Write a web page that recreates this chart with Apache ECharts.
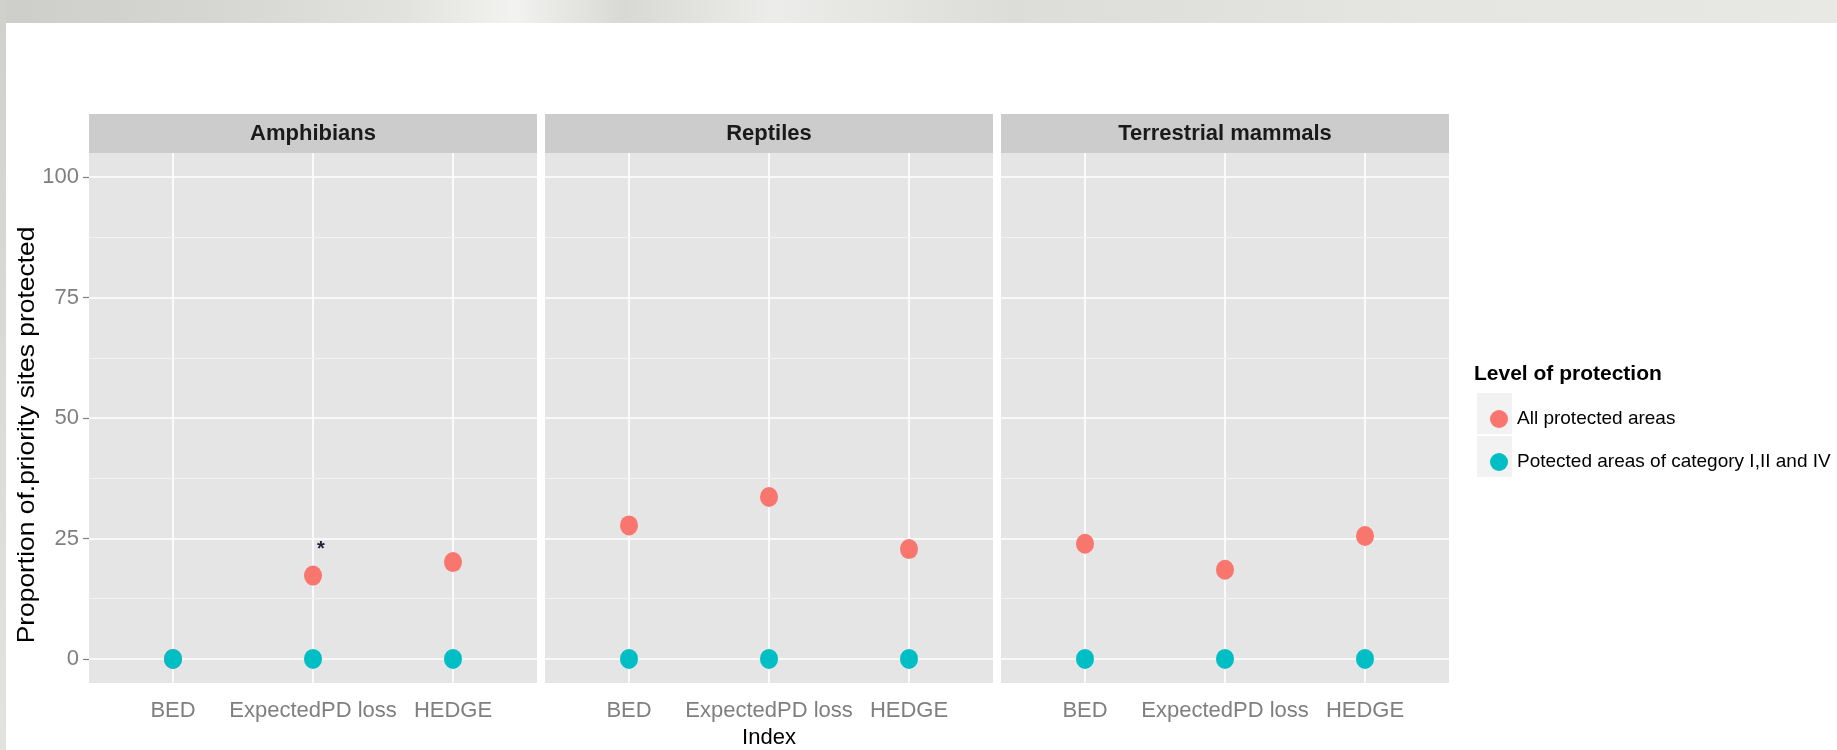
<!DOCTYPE html>
<html>
<head>
<meta charset="utf-8">
<script src="https://cdn.jsdelivr.net/npm/echarts@6/dist/echarts.min.js"></script>
<style>
  html, body { margin: 0; padding: 0; background: #ffffff; }
  #chart { width: 1837px; height: 750px; }
</style>
</head>
<body>
<div id="chart"></div>
<script>
// Index categories shown along each panel's x axis
const categories = ['BED', 'ExpectedPD loss', 'HEDGE'];
// Facet panels (taxonomic groups)
const panels = ['Amphibians', 'Reptiles', 'Terrestrial mammals'];
// Proportion of priority sites protected, all protected areas
const amphibiansAll = [0, 17.3, 20.1];
const reptilesAll = [27.7, 33.6, 22.8];
const mammalsAll = [23.9, 18.5, 25.5];
// Proportion of priority sites protected, IUCN category I, II and IV areas
const amphibiansStrict = [0, 0, 0];
const reptilesStrict = [0, 0, 0];
const mammalsStrict = [0, 0, 0];
// Y axis major and minor break values
const yTicks = [0, 25, 50, 75, 100];
const yMinor = [12.5, 37.5, 62.5, 87.5];
// Level of protection names
const seriesNames = ['All protected areas', 'Potected areas of category I,II and IV'];

const allValues = [amphibiansAll, reptilesAll, mammalsAll];
const strictValues = [amphibiansStrict, reptilesStrict, mammalsStrict];

const FONT = '"Liberation Sans", Arial, sans-serif';
const RED = '#F8766D';
const CYAN = '#00BFC4';
const PANEL_BG = '#E5E5E5';
const STRIP_BG = '#CCCCCC';
const AXIS_GREY = '#7F7F7F';
const POINT_SIZE = [18, 20];

// Panel geometry
const panelLeft = [89, 545, 1001];
const panelW = 448;
const panelTop = 153;
const panelH = 530;
const stripH = 39;

const xTickValues = categories.map((c, i) => i + 1);

const grids = panelLeft.map(l => ({
  left: l, top: panelTop, width: panelW, height: panelH,
  outerBoundsMode: 'none', containLabel: false,
  show: true, backgroundColor: PANEL_BG, borderWidth: 0
}));

const xAxes = panels.map((p, i) => ({
  gridIndex: i,
  type: 'value',
  min: 0.4,
  max: 3.6,
  axisLine: { show: false },
  axisTick: { show: true, length: 6, customValues: xTickValues, lineStyle: { color: AXIS_GREY, width: 1.2 } },
  axisLabel: {
    customValues: xTickValues,
    formatter: v => categories[Math.round(v) - 1],
    color: AXIS_GREY, fontSize: 22, fontFamily: FONT, margin: 17
  },
  splitLine: { show: true, lineStyle: { color: '#FFFFFF', width: 1.6 } },
  name: i === 1 ? 'Index' : '',
  nameLocation: 'middle',
  nameGap: 44,
  nameTextStyle: { color: '#000000', fontSize: 22, fontFamily: FONT }
}));

const yAxes = panels.map((p, i) => ({
  gridIndex: i,
  type: 'value',
  min: -5,
  max: 105,
  axisLine: { show: false },
  axisTick: { show: i === 0, length: 6, customValues: yTicks, lineStyle: { color: AXIS_GREY, width: 1.2 } },
  axisLabel: { show: i === 0, customValues: yTicks, color: AXIS_GREY, fontSize: 22, fontFamily: FONT, margin: 10 },
  splitLine: { show: true, lineStyle: { color: '#FFFFFF', width: 1.6 } }
}));

const series = [];
panels.forEach((p, i) => {
  series.push({
    name: seriesNames[0],
    type: 'scatter',
    xAxisIndex: i, yAxisIndex: i,
    symbol: 'circle', symbolSize: POINT_SIZE,
    itemStyle: { color: RED, opacity: 1 },
    data: allValues[i].map((v, j) => {
      const item = { value: [j + 1, v] };
      // significance marker above Amphibians / ExpectedPD loss
      if (i === 0 && categories[j] === 'ExpectedPD loss') {
        item.label = {
          show: true, formatter: '*', position: 'inside', offset: [8, -26],
          color: '#222233', fontSize: 20, fontFamily: FONT, fontWeight: 'bold'
        };
      }
      return item;
    }),
    markLine: {
      silent: true, symbol: 'none', animation: false,
      label: { show: false },
      lineStyle: { color: '#F2F2F2', width: 1, type: 'solid' },
      emphasis: { disabled: true },
      data: yMinor.map(v => ({ yAxis: v }))
    },
    z: 3
  });
  series.push({
    name: seriesNames[1],
    type: 'scatter',
    xAxisIndex: i, yAxisIndex: i,
    symbol: 'circle', symbolSize: POINT_SIZE,
    itemStyle: { color: CYAN, opacity: 1 },
    data: strictValues[i].map((v, j) => [j + 1, v]),
    z: 4
  });
});

// Strip headers and decoration
const graphics = [];
graphics.push({
  type: 'rect', left: 0, top: 0, z: -10, silent: true,
  shape: { width: 1837, height: 23 },
  style: {
    fill: new echarts.graphic.LinearGradient(0, 0, 1, 0, [
      { offset: 0, color: '#cdcdc9' },
      { offset: 0.12, color: '#d6d6d2' },
      { offset: 0.22, color: '#e2e2de' },
      { offset: 0.28, color: '#f2f2f0' },
      { offset: 0.34, color: '#d8d8d4' },
      { offset: 0.42, color: '#ececea' },
      { offset: 0.55, color: '#dcdcd8' },
      { offset: 0.75, color: '#e4e4e0' },
      { offset: 1, color: '#e8e8e4' }
    ])
  }
});
graphics.push({
  type: 'rect', left: 0, top: 0, z: -10, silent: true,
  shape: { width: 6, height: 750 },
  style: {
    fill: new echarts.graphic.LinearGradient(0, 0, 0, 1, [
      { offset: 0, color: '#d0d0cc' },
      { offset: 0.5, color: '#dadad6' },
      { offset: 1, color: '#e2e2de' }
    ])
  }
});
panels.forEach((p, i) => {
  graphics.push({
    type: 'rect', left: panelLeft[i], top: panelTop - stripH, silent: true,
    shape: { width: panelW, height: stripH },
    style: { fill: STRIP_BG }
  });
  graphics.push({
    type: 'text', x: panelLeft[i] + panelW / 2, y: panelTop - stripH / 2, silent: true,
    style: {
      text: p, fill: '#1A1A1A', font: 'bold 22px ' + FONT,
      textAlign: 'center', textVerticalAlign: 'middle'
    }
  });
});
// Y axis title
graphics.push({
  type: 'text', x: 27, y: 435, rotation: Math.PI / 2, scaleX: 1.1, silent: true,
  style: {
    text: 'Proportion of.priority sites protected', fill: '#000000',
    font: '24px ' + FONT, textAlign: 'center', textVerticalAlign: 'middle'
  }
});
// Legend title and key backgrounds
graphics.push({
  type: 'text', x: 1474, y: 374, silent: true,
  style: {
    text: 'Level of protection', fill: '#000000', font: 'bold 21px ' + FONT,
    textAlign: 'left', textVerticalAlign: 'middle'
  }
});
[393, 436].forEach(t => {
  graphics.push({
    type: 'rect', left: 1477, top: t, silent: true,
    shape: { width: 35, height: 41 },
    style: { fill: '#F2F2F2' }
  });
});

const chart = echarts.init(document.getElementById('chart'), null, { renderer: 'canvas' });
chart.setOption({
  animation: false,
  backgroundColor: '#FFFFFF',
  grid: grids,
  xAxis: xAxes,
  yAxis: yAxes,
  series: series,
  graphic: graphics,
  legend: {
    data: seriesNames,
    orient: 'vertical',
    left: 1485,
    top: 403,
    itemWidth: 18,
    itemHeight: 20,
    itemGap: 21,
    icon: 'circle',
    selectedMode: false,
    textStyle: { color: '#000000', fontSize: 19, fontFamily: FONT, lineHeight: 22, padding: [0, 0, 0, 4] }
  }
});
</script>
</body>
</html>
